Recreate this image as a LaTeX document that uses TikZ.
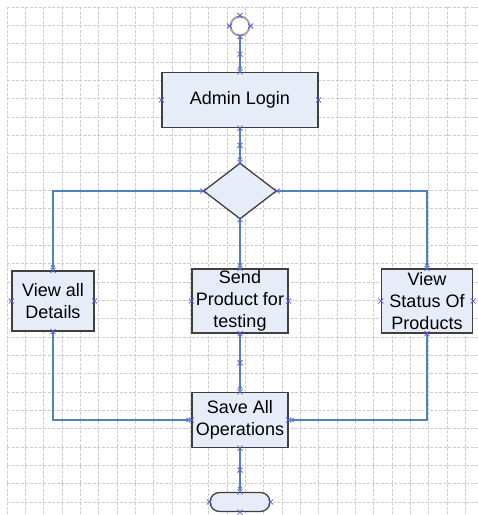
\documentclass[tikz,border=0pt]{standalone}
\usepackage{fontspec}
\setmainfont{Liberation Sans}
\usetikzlibrary{calc,arrows.meta,shapes.geometric,shapes.misc}
\definecolor{boxfill}{RGB}{230,236,248}
\definecolor{boxline}{RGB}{64,64,64}
\definecolor{connblue}{RGB}{79,129,189}
\definecolor{markblue}{RGB}{90,90,235}
\definecolor{gridgray}{RGB}{205,205,205}
\tikzset{
  actbox/.style={draw=boxline, line width=1.3pt, fill=boxfill, align=center,
    inner sep=0pt, font=\fontsize{18}{22}\selectfont},
  conn/.style={draw=connblue, line width=1.2pt, -{Latex[length=5pt,width=5pt]}},
}
\def\xmark#1{\draw[markblue, line width=0.8pt] (#1) +(-2.5,-2.5) -- +(2.5,2.5) +(-2.5,2.5) -- +(2.5,-2.5);}

\begin{document}
\begin{tikzpicture}[x=1pt, y=-1pt]
		%%%%% START %%%%%
		\useasboundingbox (0,0) rectangle (478,515);
		\fill[white] (0,0) rectangle (478,515);
		
		% grid
		\foreach \i in {0,...,25}
			\draw[gridgray, line width=0.8pt, dash pattern=on 3pt off 1.5pt] (7+18.33*\i, 7) -- (7+18.33*\i, 515);
		\foreach \j in {0,...,27}
			\draw[gridgray, line width=0.8pt, dash pattern=on 3pt off 1.5pt] (7, 7+18.33*\j) -- (478, 7+18.33*\j);
		
		\node[circle, draw=gray!70, line width=2pt, fill=white, minimum size=19pt, inner sep=0pt] (start) at (240, 26) {};
		
		\node[actbox, minimum width=156pt, minimum height=55pt] (admin) at (240, 100) {Admin Login};
		\node[diamond, draw=boxline, line width=1.3pt, fill=boxfill, minimum width=73pt, minimum height=56pt, inner sep=0pt] (choice) at (240, 191) {};
		
		\node[actbox, minimum width=82pt, minimum height=60pt] (details) at (53, 301) {View all\\Details};
		\node[actbox, minimum width=96pt, minimum height=64pt] (send) at (240, 301) {Send\\Product for\\testing};
		\node[actbox, minimum width=91pt, minimum height=64pt] (status) at (427, 301) {View\\Status Of\\Products};
		
		\node[actbox, minimum width=96pt, minimum height=55pt] (save) at (240, 420) {Save All\\Operations};
		\node[rounded rectangle, draw=boxline, line width=1.3pt, fill=boxfill, minimum width=60pt, minimum height=19pt, inner sep=0pt] (finish) at (240, 502) {};
		
		% connectors
		\draw[conn] (start) -- (admin);
		\draw[conn] (admin) -- (choice);
		\draw[conn] (choice.west) -| (details.north);
		\draw[conn] (choice) -- (send);
		\draw[conn] (choice.east) -| (status.north);
		\draw[conn] (details.south) |- (save.west);
		\draw[conn] (send) -- (save);
		\draw[conn] (status.south) |- (save.east);
		\draw[conn] (save) -- (finish);
		
		% connection points
		\foreach \n in {start,admin,choice,details,send,status,save,finish}
			\foreach \a in {north,south,east,west}
				\xmark{\n.\a};
		\xmark{$(start.south)!0.5!(admin.north)$};
		\xmark{$(admin.south)!0.5!(choice.north)$};
		\xmark{$(send.south)!0.5!(save.north)$};
		\xmark{$(save.south)!0.5!(finish.north)$};
		
		%%%%% END %%%%%
	\end{tikzpicture}
\end{document}
